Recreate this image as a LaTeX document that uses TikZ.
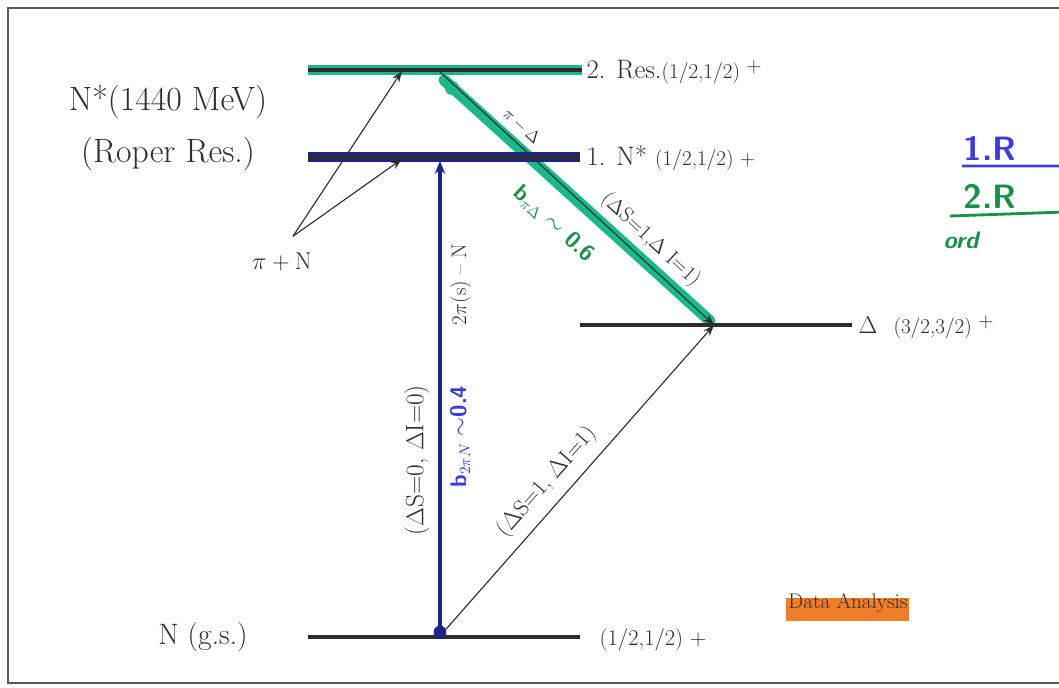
\documentclass[tikz,border=0pt]{standalone}
\usepackage{amsmath,amssymb}
\usepackage{tikz}
\usetikzlibrary{arrows.meta,positioning,calc}
\definecolor{inkgray}{RGB}{45,45,45}
\definecolor{mteal}{RGB}{25,185,140}
\definecolor{mnavy}{RGB}{30,35,140}
\definecolor{pblue}{RGB}{60,60,215}
\definecolor{pgreen}{RGB}{25,145,70}
\definecolor{morange}{RGB}{240,125,40}
\newcommand{\fsz}[1]{\fontsize{#1}{#1}\selectfont}
\begin{document}
\begin{tikzpicture}[x=0.025cm,y=-0.025cm,
  lvl/.style={line width=3.2pt,inkgray},
  arr/.style={-{Stealth[length=2.8mm,width=2mm]},line width=0.8pt,inkgray},
  lbl/.style={inner sep=1pt,text=inkgray},
  pen/.style={inner sep=1pt,font=\sffamily\bfseries}]
\clip (0,0) rectangle (1059,688);
\fill[white] (0,0) rectangle (1059,688);
\draw[line width=1.3pt,black!65] (1070,8) -- (8,8) -- (8,683) -- (1070,683);
% level end points
\coordinate (r2a) at (308,70);  \coordinate (r2b) at (582,70);
\coordinate (n1a) at (308,157); \coordinate (n1b) at (580,157);
\coordinate (dla) at (580,325); \coordinate (dlb) at (852,325);
\coordinate (gsa) at (308,637); \coordinate (gsb) at (580,637);
% transition end points
\coordinate (r2m) at (440,72);  \coordinate (r2p) at (402,71);
\coordinate (n1m) at (440,161); \coordinate (n1p) at (402,159);
\coordinate (dlm) at (714,325); \coordinate (gsm) at (440,636);
% marker strokes
\draw[mteal,line width=8pt,line cap=round] (444,80) -- (710,321);
\fill[mteal] (452,88) circle (5pt);
\draw[mteal,line width=7pt] (r2a) -- (r2b);
\draw[mnavy,line width=6.5pt] (n1a) -- (n1b);
\foreach \a/\b in {r2a/r2b,n1a/n1b,dla/dlb,gsa/gsb} \draw[lvl] (\a) -- (\b);
% level labels
\node[lbl,align=center,font=\fontsize{24}{37}\selectfont] (roper) at (168,128) {N*(1440 MeV)\\(Roper Res.)};
\node[lbl,font=\fsz{21}] (gsn) at (203,637) {N (g.s.)};
\node[lbl,anchor=base west] (r2t) at (585,79) {\fsz{19}2. Res.\fsz{15}(1/2,1/2)\ \raisebox{.7ex}{+}};
\node[lbl,anchor=base west] (n1t) at (585,166) {\fsz{19}1. N*\ \fsz{15}(1/2,1/2) +};
\node[lbl,anchor=base west] (dlt) at (857,334) {\fsz{19}$\Delta$\ \ \fsz{15}(3/2,3/2)\ \raisebox{.7ex}{+}};
\node[lbl,anchor=base west,font=\fsz{16}] (gst) at (598,645) {(1/2,1/2) +};
% pi + N
\node[lbl,font=\fsz{17}] (pn) at (282,262) {$\pi+\mathrm{N}$};
\draw[arr] ([shift={(11,-15)}]pn.north) -- (r2p);
\draw[arr] ([shift={(11,-15)}]pn.north) -- (n1p);
% transitions
\draw[arr] (r2m) -- node[lbl,sloped,above=5pt,pos=0.26,font=\fsz{13}] {$\pi-\Delta$}
  node[lbl,sloped,above=5pt,pos=0.72,font=\fsz{15}] {($\Delta$S=1,$\Delta$ I=1)}
  node[pen,sloped,below=16pt,pos=0.5,text=pgreen,font=\sffamily\bfseries\fsz{16}] {b$_{\pi\Delta}\sim$ 0.6} (dlm);
\draw[arr] (gsm) -- node[lbl,sloped,above=6pt,pos=0.45,font=\fsz{16}] {($\Delta$S=1, $\Delta$I=1)} (dlm);
\draw[mnavy,line width=2.8pt,-{Stealth[length=3.2mm,width=2.6mm]}] (gsm) --
  node[lbl,sloped,above=5pt,pos=0.37,font=\fsz{18}] {($\Delta$S=0, $\Delta$I=0)}
  node[lbl,sloped,below=5pt,pos=0.74,font=\fsz{15}] {2$\pi$(s) -- N}
  node[pen,sloped,below=5pt,pos=0.42,text=pblue,font=\sffamily\bfseries\fsz{16}] {b$_{2\pi N}\sim$0.4} (n1m);
\fill[mnavy] (gsm) ++(0,-4) circle (4.5pt);
% data analysis
\fill[morange] (786,598) rectangle (909,621);
\node[lbl,font=\fsz{15}] (da) at (848,603) {Data Analysis};
% hand notes
\node[pen,text=pblue,anchor=west,font=\sffamily\bfseries\fsz{24}] (h1) at (962,148) {1.R};
\draw[pblue,line width=2pt] ([yshift=-3]h1.south west) -- (1065,166);
\node[pen,text=pgreen,anchor=west,font=\sffamily\bfseries\fsz{24}] (h2) at (962,196) {2.R};
\draw[pgreen,line width=2pt] (950,216) -- (1065,212);
\node[pen,text=pgreen,anchor=west,font=\sffamily\bfseries\itshape\fsz{17}] (h3) at (942,240) {ord};
\end{tikzpicture}
\end{document}
